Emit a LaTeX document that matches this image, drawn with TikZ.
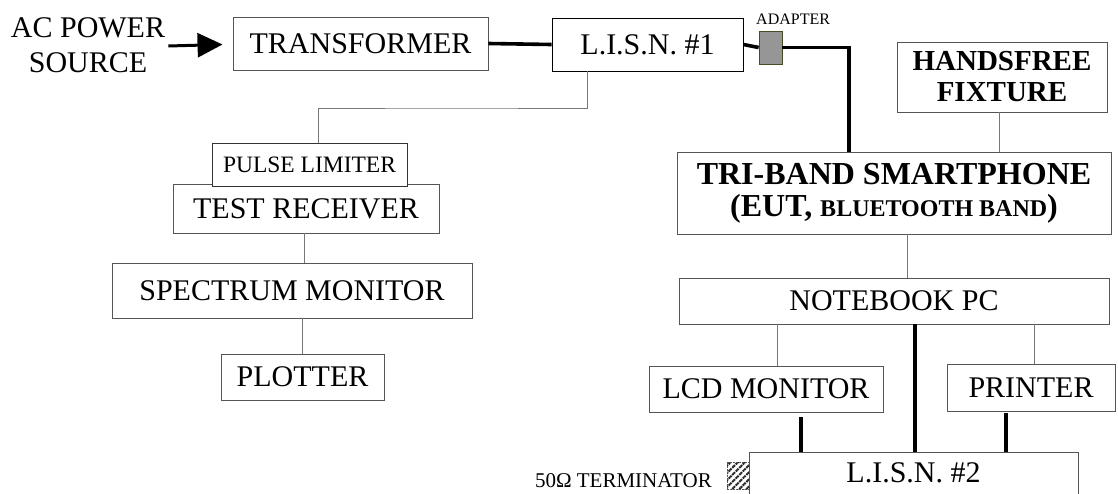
\documentclass[tikz,border=0pt]{standalone}
\usepackage{fontspec}
\setmainfont{Liberation Serif}
\usetikzlibrary{arrows.meta,patterns.meta}
\definecolor{boxgray}{HTML}{555555}
\definecolor{linegray}{HTML}{777777}
\definecolor{adgray}{HTML}{969696}
\definecolor{adedge}{HTML}{4A4A20}
\tikzset{
  box/.style={draw=boxgray, line width=0.9pt, inner sep=0pt, fill=white,
    font=\fontsize{30}{34}\selectfont, align=center},
  thinline/.style={draw=linegray, line width=1pt},
  thickline/.style={draw=black, line width=3.6pt},
}
\begin{document}
\begin{tikzpicture}[x=1pt,y=-1pt]
\useasboundingbox (0,0) rectangle (1118,493);
\clip (0,0) rectangle (1118,493);

% left chain
\node[inner sep=3pt, align=center, font=\fontsize{30}{35}\selectfont] (acsrc) at (88,45) {AC POWER\\SOURCE};
\node[box, minimum width=255, minimum height=53] (trans) at (360.5,43.5) {TRANSFORMER};
\node[box, draw=black, minimum width=191, minimum height=53] (lisn1) at (647.5,44.5) {L.I.S.N. \#1};
\node[box, minimum width=266, minimum height=49] (testrx) at (306,208.5) {TEST RECEIVER};
\node[box, draw=black!80, minimum width=195, minimum height=43, font=\fontsize{23.5}{26}\selectfont] (pulse) at (309.5,164.5) {PULSE LIMITER};
\node[box, minimum width=360, minimum height=55] (spec) at (292,290.5) {SPECTRUM MONITOR};
\node[box, minimum width=163, minimum height=46] (plot) at (302.5,377) {PLOTTER};

\coordinate (j1) at (450,108);

\draw[line width=3pt, -{Triangle[length=25pt,width=24pt]}] ([yshift=-1]acsrc.east) -- ([xshift=-10,yshift=-1]trans.west);
\draw[thickline] (trans.east) -- (lisn1.west);
\draw[thinline] ([xshift=-60.5]lisn1.south) |- (j1) -| ([xshift=8.5]pulse.north);
\draw[thinline] ([xshift=-2]testrx.south) -- ([xshift=-2]testrx.south |- spec.north);
\draw[thinline] (spec.south -| plot.north) -- (plot.north);

% adapter
\node[draw=adedge, fill=adgray, line width=0.8pt, minimum width=23, minimum height=33, inner sep=0pt] (adapter) at (770.5,47.5) {};
\node[font=\fontsize{16}{18}\selectfont, anchor=base west, inner sep=0pt] (adlabel) at (756,24.5) {ADAPTER};
\draw[thickline] (lisn1.east) -- (adapter.west);

% right side
\node[box, minimum width=210, minimum height=70, font=\fontsize{29}{31}\bfseries] (hands) at (1002,77) {HANDSFREE\\FIXTURE};
\node[box, minimum width=434, minimum height=82, font=\fontsize{32}{32}\bfseries] (tri) at (894,193)
  {TRI-BAND SMARTPHONE\\(EUT, {\fontsize{24}{24}\selectfont BLUETOOTH BAND})};
\node[box, minimum width=430, minimum height=46] (note) at (894,301) {NOTEBOOK PC};
\node[box, minimum width=234, minimum height=46] (lcd) at (766,389) {LCD MONITOR};
\node[box, minimum width=168, minimum height=47] (printer) at (1031,387.5) {PRINTER};
\node[draw=boxgray, line width=0.9pt, minimum width=329, minimum height=80, anchor=north, inner sep=0pt] (lisn2) at (913.5,452) {};
\node[font=\fontsize{30}{34}\selectfont, inner sep=0pt] (lisn2t) at (913.5,473) {L.I.S.N. \#2};

\draw[thickline] (adapter.east) -| ([xshift=-45]tri.north);
\draw[thinline] ([xshift=-3]hands.south) -- ([xshift=-3]hands.south |- tri.north);
\draw[thinline] ([xshift=13]tri.south) -- ([xshift=13]note.north);
\draw[thinline] ([xshift=11]lcd.north) -- ([xshift=11]lcd.north |- note.south);
\draw[thinline] ([xshift=3]printer.north) -- ([xshift=3]printer.north |- note.south);
\draw[thickline] ([xshift=1.5]lisn2.north) -- ([xshift=1.5]lisn2.north |- note.south);
\draw[thickline] ([xshift=35,yshift=-5]lcd.south) -- ([xshift=35]lcd.south |- lisn2.north);
\draw[thickline] ([xshift=-25,yshift=-2]printer.south) -- ([xshift=-25]printer.south |- lisn2.north);

% terminator
\node[draw=boxgray, densely dotted, line width=0.6pt, minimum width=22, minimum height=27, inner sep=0pt,
  pattern={Lines[angle=45,distance=5pt,line width=2pt]}, pattern color=black!85] (term) at (738,475.5) {};
\node[font=\fontsize{21}{24}\selectfont, anchor=base east, inner sep=0pt] (termlabel) at ([xshift=-14]term.west |- 0,487) {50Ω TERMINATOR};
\end{tikzpicture}
\end{document}
